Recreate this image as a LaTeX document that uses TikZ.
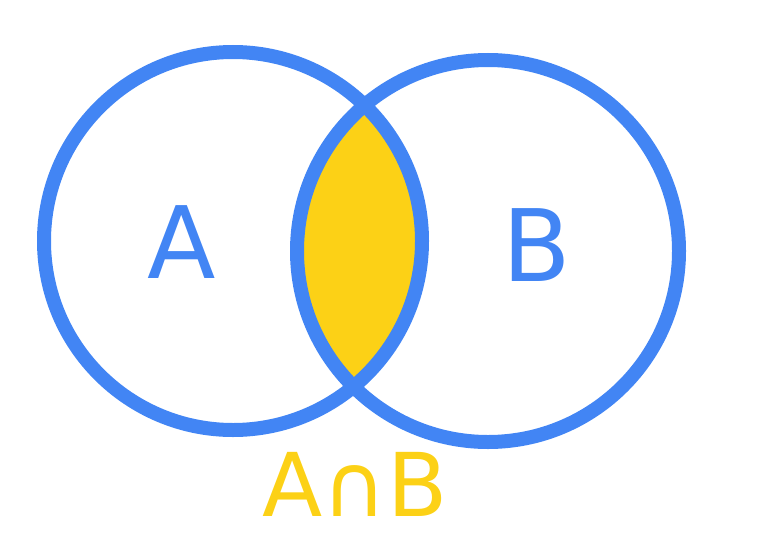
\documentclass[tikz,border=0pt]{standalone}
\usepackage{fontspec}
\setmainfont{DejaVu Sans}
\definecolor{vblue}{HTML}{4285F4}
\definecolor{vyellow}{HTML}{FCD116}
\tikzset{ring/.style={draw=vblue,line width=14pt},
 lab/.style={text=vblue,font=\fontsize{100}{100}\selectfont,inner sep=0pt}}
\begin{document}
\begin{tikzpicture}[x=1pt,y=-1pt]
\useasboundingbox (0,0) rectangle (767,551);
\coordinate (ca) at (233,241);
\coordinate (cb) at (488,251);
\begin{scope}
\clip (ca) circle (189);
\fill[vyellow] (cb) circle (191);
\end{scope}
\draw[ring] (ca) circle (189);
\draw[ring] (cb) circle (191);
\node[lab] (a) at (182,242) {A};
\node[lab] (b) at (537,245) {B};
\node[lab,text=vyellow,font=\fontsize{88}{88}\selectfont] (ab) at (355,484) {A∩B};
\end{tikzpicture}
\end{document}
